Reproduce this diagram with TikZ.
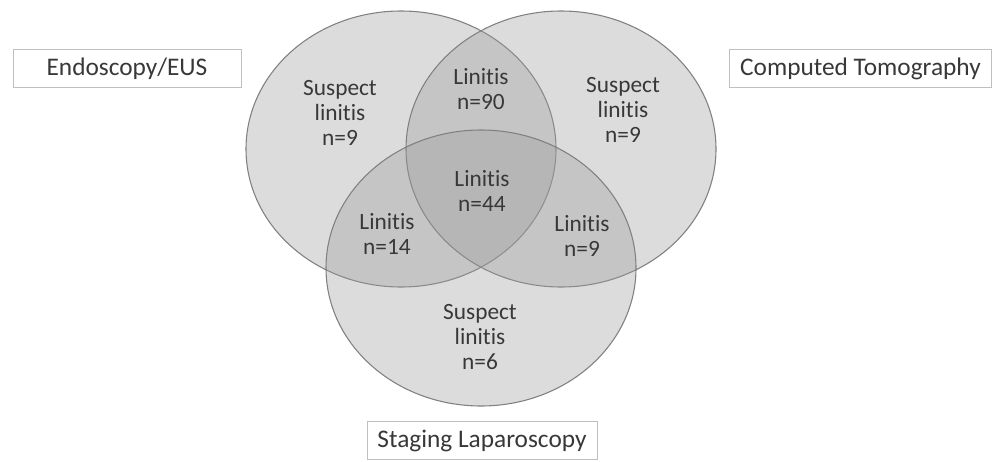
\documentclass[tikz,border=0pt]{standalone}
\usepackage{fontspec}
\setmainfont{Carlito}[Ligatures=NoCommon]
\usetikzlibrary{shapes.geometric}
\definecolor{txt}{HTML}{383838}
\definecolor{ring}{HTML}{808080}
\definecolor{boxline}{HTML}{BFBFBF}
\definecolor{vfill}{RGB}{155,155,155}
\tikzset{
  set/.style={ellipse, draw=ring, line width=0.8pt, fill=vfill, fill opacity=0.35,
    minimum width=232.5pt, minimum height=207pt, inner sep=0pt, outer sep=0pt},
  lab/.style={text=txt, align=center, inner sep=0pt,
    font=\fontsize{17.5pt}{19pt}\selectfont},
  title/.style={draw=boxline, line width=0.75pt, text=txt, inner sep=0pt,
    font=\fontsize{19pt}{23pt}\selectfont}
}
\begin{document}
\begin{tikzpicture}[x=0.75pt,y=-0.75pt]
\useasboundingbox (0,0) rectangle (993,461);
\node[set] (endo) at (401,149) {};
\node[set] (ct) at (561,149) {};
\node[set] (lap) at (481,268) {};
\node[lab] (e1) at (340,113) {Suspect\\linitis\\n=9};
\node[lab] (c1) at (623,110) {Suspect\\linitis\\n=9};
\node[lab] (ec) at (481,89) {Linitis\\n=90};
\node[lab] (ecl) at (482,191) {Linitis\\n=44};
\node[lab] (el) at (387,234) {Linitis\\n=14};
\node[lab] (cl) at (582,236) {Linitis\\n=9};
\node[lab] (l1) at (480,337) {Suspect\\linitis\\n=6};
\node[title, minimum width=171pt, minimum height=29pt] (te) at (127,68.5) {Endoscopy/EUS};
\node[title, minimum width=196pt, minimum height=29pt] (tc) at (860.5,68.5) {Computed Tomography};
\node[title, minimum width=172.5pt, minimum height=29pt] (tl) at (482,440.5) {Staging Laparoscopy};
\end{tikzpicture}
\end{document}
